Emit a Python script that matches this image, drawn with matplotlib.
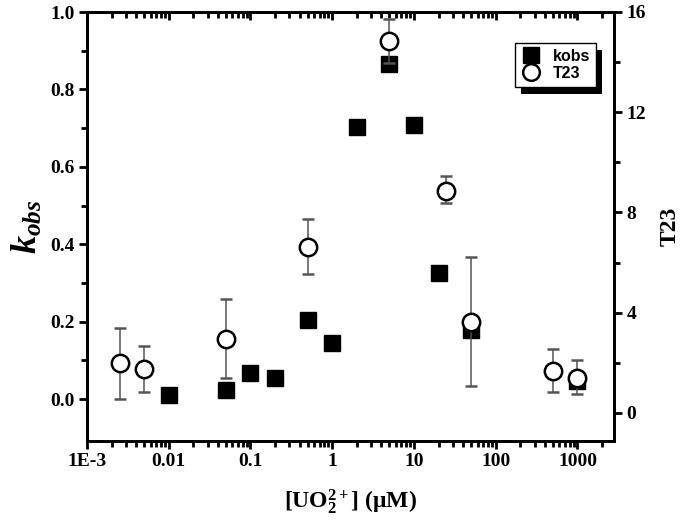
import numpy as np
import matplotlib
matplotlib.use('Agg')
import matplotlib.pyplot as plt
from matplotlib.ticker import LogLocator, FixedLocator, NullFormatter
from matplotlib.lines import Line2D
from matplotlib.patches import Rectangle

# kobs (left axis)
kobs_conc = [0.01, 0.05, 0.1, 0.2, 0.5, 1, 2, 5, 10, 20, 50, 1000]
kobs_vals = [0.011, 0.023, 0.067, 0.054, 0.204, 0.145, 0.703, 0.866, 0.708, 0.326, 0.178, 0.047]

# T23 (right axis) with asymmetric error bars
t23_conc = [0.0025, 0.005, 0.05, 0.5, 5, 25, 50, 500, 1000]
t23_vals = [2.0, 1.76, 2.97, 6.62, 14.84, 8.86, 3.63, 1.68, 1.40]
t23_top = [3.39, 2.67, 4.55, 7.74, 15.72, 9.46, 6.22, 2.55, 2.11]
t23_bot = [0.56, 0.84, 1.40, 5.55, 13.96, 8.38, 1.08, 0.84, 0.76]

xtick_vals = [1e-3, 1e-2, 1e-1, 1, 10, 100, 1000]
xtick_labels = ['1E-3', '0.01', '0.1', '1', '10', '100', '1000']

plt.rcParams['mathtext.fontset'] = 'custom'
plt.rcParams['mathtext.rm'] = 'Liberation Serif:bold'
plt.rcParams['mathtext.it'] = 'Liberation Serif:bold:italic'
plt.rcParams['mathtext.bf'] = 'Liberation Serif:bold'

serif = {'family': 'Liberation Serif', 'weight': 'bold'}

fig = plt.figure(figsize=(6.83, 5.24), dpi=100)
ax = fig.add_axes([87 / 683, 1 - 441 / 524, (614 - 87) / 683, (441 - 12) / 524])
ax2 = ax.twinx()

ax.plot(kobs_conc, kobs_vals, 's', color='black', markersize=11.5, zorder=3)

t = np.array(t23_vals)
yerr = [t - np.array(t23_bot), np.array(t23_top) - t]
ax2.errorbar(t23_conc, t23_vals, yerr=yerr, fmt='o', mfc='white', mec='black',
             mew=1.8, markersize=12.5, ecolor='#555555', elinewidth=1.1,
             capsize=4, capthick=1.1, zorder=4)

ax.set_xscale('log')
ax.set_xlim(1e-3, 2800)
ax.set_ylim(-0.108, 1.0)
ax2.set_ylim(-1.12, 16)

ax.xaxis.set_major_locator(FixedLocator(xtick_vals))
ax.set_xticklabels(xtick_labels, fontdict=serif, fontsize=14)
ax.xaxis.set_minor_locator(LogLocator(base=10, subs=np.arange(2, 10), numticks=20))
ax.xaxis.set_minor_formatter(NullFormatter())

ax.yaxis.set_major_locator(FixedLocator([0, 0.2, 0.4, 0.6, 0.8, 1.0]))
ax.yaxis.set_minor_locator(FixedLocator([0.1, 0.3, 0.5, 0.7, 0.9]))
ax.set_yticklabels(['0.0', '0.2', '0.4', '0.6', '0.8', '1.0'], fontdict=serif, fontsize=14)

ax2.yaxis.set_major_locator(FixedLocator([0, 4, 8, 12, 16]))
ax2.yaxis.set_minor_locator(FixedLocator([2, 6, 10, 14]))
ax2.set_yticklabels(['0', '4', '8', '12', '16'], fontdict=serif, fontsize=14)

for a in (ax, ax2):
    for s in a.spines.values():
        s.set_linewidth(2)
ax.tick_params(axis='both', which='major', direction='out', length=6, width=2, pad=3)
ax.tick_params(axis='both', which='minor', direction='out', length=4, width=2)
ax2.tick_params(axis='y', which='major', direction='out', length=6, width=2, pad=3)
ax2.tick_params(axis='y', which='minor', direction='out', length=4, width=2)

# top ticks point inward
top = ax.secondary_xaxis('top')
top.xaxis.set_major_locator(FixedLocator(xtick_vals))
top.xaxis.set_minor_locator(LogLocator(base=10, subs=np.arange(2, 10), numticks=20))
top.xaxis.set_major_formatter(NullFormatter())
top.xaxis.set_minor_formatter(NullFormatter())
top.tick_params(which='major', direction='in', length=6, width=2)
top.tick_params(which='minor', direction='in', length=4, width=2)
top.spines['top'].set_linewidth(2)

ax.set_xlabel(r'[UO$_2^{2+}$] (μM)', fontdict=serif, fontsize=17, labelpad=12)
ax.set_ylabel(r'$k_{obs}$', fontsize=26, labelpad=4)
ax2.set_ylabel('T23', fontdict=serif, fontsize=17, rotation=90, labelpad=10)

# legend with solid black drop shadow
handles = [Line2D([], [], marker='s', ls='none', color='black', markersize=11.5),
           Line2D([], [], marker='o', ls='none', mfc='white', mec='black', mew=1.8, markersize=12)]
leg = ax2.legend(handles, ['kobs', 'T23'], loc='upper left',
                 bbox_to_anchor=(515 / 683, 1 - 43 / 524), bbox_transform=fig.transFigure,
                 frameon=True, fancybox=False, edgecolor='black', framealpha=1,
                 prop={'family': 'Liberation Sans', 'weight': 'bold', 'size': 11.5},
                 handletextpad=0.7, handlelength=1.3, borderpad=0.35, labelspacing=0.15,
                 borderaxespad=0)
leg.get_frame().set_linewidth(1)
leg.remove()
fig.legends.append(leg)
leg.set_figure(fig)
leg.set_zorder(10)
fig.canvas.draw()
bb = leg.get_window_extent()
shadow = Rectangle((bb.x0 + 6, bb.y0 - 7), bb.width, bb.height, transform=None,
                   facecolor='black', edgecolor='none', zorder=9)
fig.patches.append(shadow)

fig.savefig('out.png', dpi=100)
